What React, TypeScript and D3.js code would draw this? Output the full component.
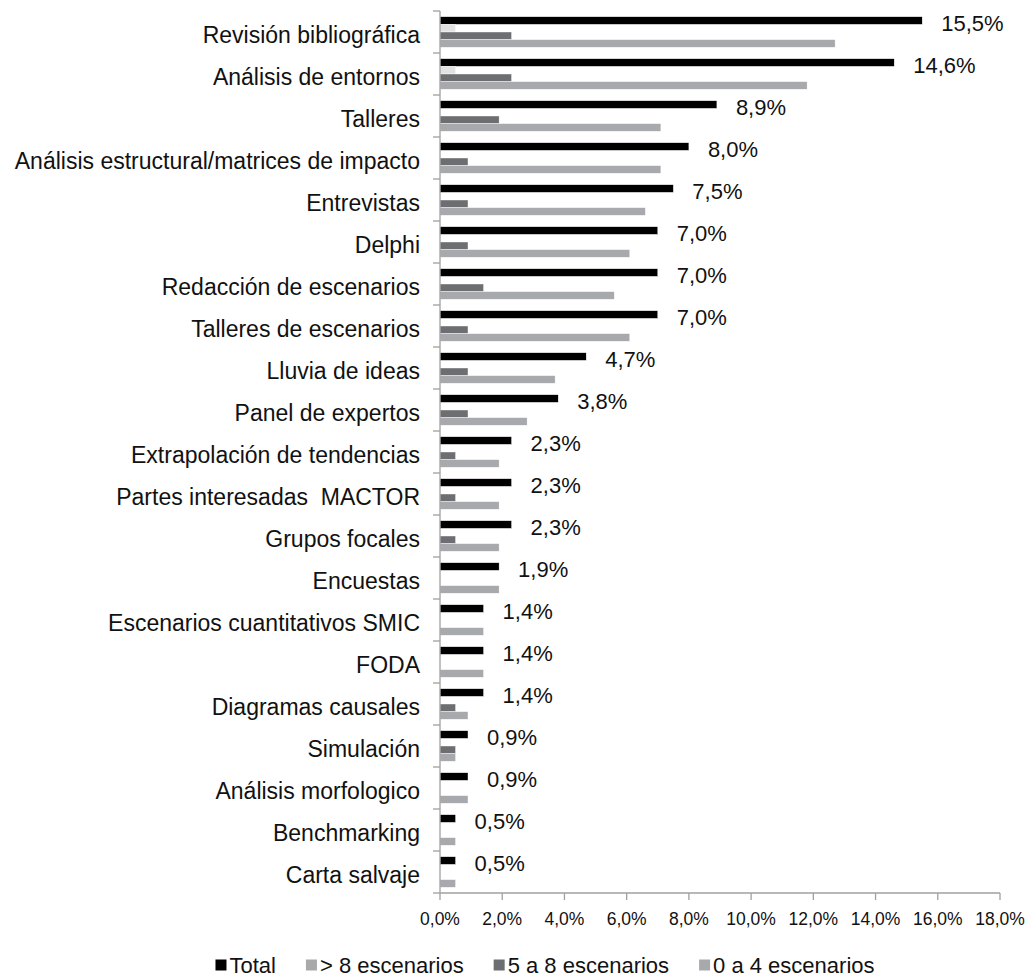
import React, { useEffect, useRef } from 'react';
import * as d3 from 'd3';

const categories = [
  'Revisión bibliográfica',
  'Análisis de entornos',
  'Talleres',
  'Análisis estructural/matrices de impacto',
  'Entrevistas',
  'Delphi',
  'Redacción de escenarios',
  'Talleres de escenarios',
  'Lluvia de ideas',
  'Panel de expertos',
  'Extrapolación de tendencias',
  'Partes interesadas  MACTOR',
  'Grupos focales',
  'Encuestas',
  'Escenarios cuantitativos SMIC',
  'FODA',
  'Diagramas causales',
  'Simulación',
  'Análisis morfologico',
  'Benchmarking',
  'Carta salvaje',
];

const seriesNames = ['Total', '> 8 escenarios', '5 a 8 escenarios', '0 a 4 escenarios'];

const total = [15.5, 14.6, 8.9, 8.0, 7.5, 7.0, 7.0, 7.0, 4.7, 3.8, 2.3, 2.3, 2.3, 1.9, 1.4, 1.4, 1.4, 0.9, 0.9, 0.5, 0.5];
const over8 = [0.5, 0.5, 0, 0, 0, 0, 0, 0, 0, 0, 0, 0, 0, 0, 0, 0, 0, 0, 0, 0, 0];
const from5to8 = [2.3, 2.3, 1.9, 0.9, 0.9, 0.9, 1.4, 0.9, 0.9, 0.9, 0.5, 0.5, 0.5, 0, 0, 0, 0.5, 0.5, 0, 0, 0];
const from0to4 = [12.7, 11.8, 7.1, 7.1, 6.6, 6.1, 5.6, 6.1, 3.7, 2.8, 1.9, 1.9, 1.9, 1.9, 1.4, 1.4, 0.9, 0.5, 0.9, 0.5, 0.5];

const xTicks = [0, 2, 4, 6, 8, 10, 12, 14, 16, 18];

const barColors = ['#000000', '#e2e2e2', '#6d6e71', '#a7a9ac'];
const legendColors = ['#000000', '#a9a9a9', '#6d6e71', '#a7a9ac'];

const fmt = (v: number) => v.toFixed(1).replace('.', ',') + '%';

export default function App() {
  const svgRef = useRef<SVGSVGElement>(null);

  useEffect(() => {
    if (!svgRef.current) return;
    const svg = d3.select(svgRef.current);
    svg.selectAll('*').remove();

    const font = '"Liberation Sans", Arial, sans-serif';
    const values = [total, over8, from5to8, from0to4];

    const x = d3.scaleLinear().domain([0, 18]).range([440, 1000]);
    const y = d3.scaleBand<string>().domain(categories).range([11, 893]).padding(0);
    const inner = d3.scaleBand<number>()
      .domain([0, 1, 2, 3])
      .range([0, y.bandwidth()])
      .paddingInner(0)
      .paddingOuter(0.75);

    const g = svg.append('g');

    // bars
    values.forEach((vals, s) => {
      g.append('g')
        .selectAll('rect')
        .data(categories)
        .join('rect')
        .filter((_, i) => vals[i] > 0)
        .attr('x', x(0))
        .attr('y', (d) => (y(d) as number) + (inner(s) as number))
        .attr('width', (d) => x(vals[categories.indexOf(d)]) - x(0))
        .attr('height', inner.bandwidth())
        .attr('fill', barColors[s])
        .attr('stroke', '#ffffff')
        .attr('stroke-width', 0.4);
    });

    // data labels on total
    g.append('g')
      .selectAll('text')
      .data(categories)
      .join('text')
      .attr('x', (_, i) => x(total[i]) + 19)
      .attr('y', (d) => (y(d) as number) + 20)
      .attr('font-family', font)
      .attr('font-size', 22)
      .attr('fill', '#111')
      .text((_, i) => fmt(total[i]));

    // y axis
    const axisColor = '#a0a0a0';
    g.append('line')
      .attr('x1', x(0)).attr('x2', x(0))
      .attr('y1', 11).attr('y2', 893)
      .attr('stroke', axisColor).attr('stroke-width', 1.3);
    const bounds = categories.map((c) => y(c) as number).concat([893]);
    g.append('g')
      .selectAll('line')
      .data(bounds)
      .join('line')
      .attr('x1', x(0) - 7).attr('x2', x(0))
      .attr('y1', (d) => d).attr('y2', (d) => d)
      .attr('stroke', axisColor).attr('stroke-width', 1.3);

    g.append('g')
      .selectAll('text')
      .data(categories)
      .join('text')
      .attr('x', 420)
      .attr('y', (d) => (y(d) as number) + y.bandwidth() / 2 + 11)
      .attr('text-anchor', 'end')
      .attr('font-family', font)
      .attr('font-size', 23)
      .attr('fill', '#111')
      .style('white-space', 'pre')
      .text((d) => d);

    // x axis
    g.append('line')
      .attr('x1', x(0)).attr('x2', x(18))
      .attr('y1', 893).attr('y2', 893)
      .attr('stroke', axisColor).attr('stroke-width', 1.3);
    g.append('g')
      .selectAll('line')
      .data(xTicks)
      .join('line')
      .attr('x1', (d) => x(d)).attr('x2', (d) => x(d))
      .attr('y1', 893).attr('y2', 900)
      .attr('stroke', axisColor).attr('stroke-width', 1.3);
    g.append('g')
      .selectAll('text')
      .data(xTicks)
      .join('text')
      .attr('x', (d) => x(d))
      .attr('y', 925)
      .attr('text-anchor', 'middle')
      .attr('font-family', font)
      .attr('font-size', 17.5)
      .attr('fill', '#111')
      .text((d) => fmt(d));

    // legend
    const ctx = document.createElement('canvas').getContext('2d');
    const legFont = 22;
    if (ctx) ctx.font = `${legFont}px "Liberation Sans"`;
    const widths = seriesNames.map((n) => (ctx ? ctx.measureText(n).width : n.length * 11));
    const sq = 11;
    const gap = 30;
    const totalW = widths.reduce((a, w) => a + sq + 3 + w + gap, 0) - gap;
    let lx = 545 - totalW / 2;
    const ly = 966;
    seriesNames.forEach((n, i) => {
      g.append('rect')
        .attr('x', lx).attr('y', ly - sq / 2 - 1)
        .attr('width', sq).attr('height', sq)
        .attr('fill', legendColors[i]);
      g.append('text')
        .attr('x', lx + sq + 3)
        .attr('y', ly + 7)
        .attr('font-family', font)
        .attr('font-size', legFont)
        .attr('fill', '#111')
        .text(n);
      lx += sq + 3 + widths[i] + gap;
    });
  }, []);

  return (
    <svg
      ref={svgRef}
      width={1029}
      height={977}
      style={{ position: 'absolute', left: 0, top: 0, background: '#fff' }}
    />
  );
}
